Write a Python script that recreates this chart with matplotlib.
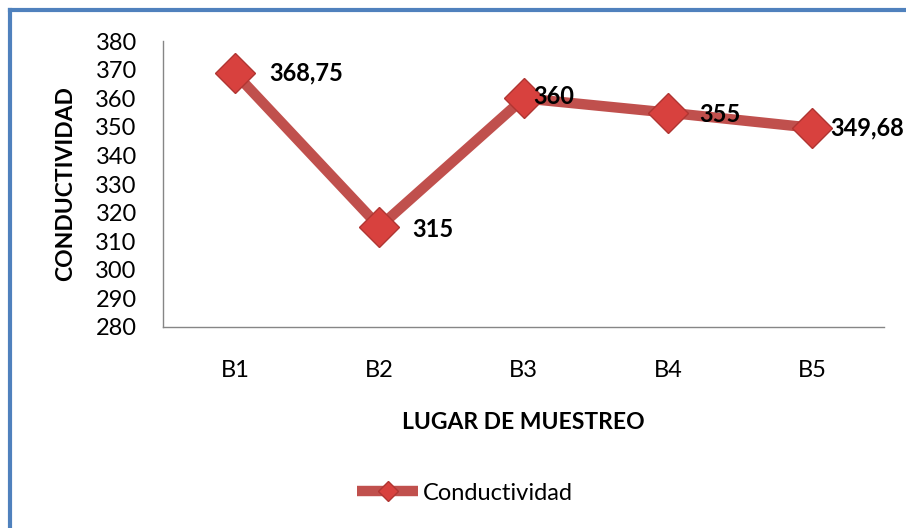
import matplotlib.pyplot as plt
from matplotlib.lines import Line2D

plt.rcParams['font.family'] = ['Lato', 'DejaVu Sans']

# data
lugares = ['B1', 'B2', 'B3', 'B4', 'B5']
conductividad = [368.75, 315, 360, 355, 349.68]
etiquetas = ['368,75', '315', '360', '355', '349,68']
# label offsets in pixels (x, y) from each point
offsets = [(34, 0), (33, -3), (10, 2), (31, -2), (18, 0)]

red = '#C0504D'

fig = plt.figure(figsize=(9.06, 5.28), dpi=100)
ax = fig.add_axes([0.180, 0.381, 0.796, 0.541])

x = range(len(lugares))
ax.plot(x, conductividad, color=red, linewidth=7.5, solid_capstyle='butt',
        marker='D', markersize=20, markerfacecolor='#D8413E',
        markeredgecolor='#B03532', markeredgewidth=1, label='Conductividad',
        zorder=3)

for i, (v, t) in enumerate(zip(conductividad, etiquetas)):
    ax.annotate(t, (i, v), xytext=offsets[i], textcoords='offset pixels',
                ha='left', va='center', fontsize=17, fontweight='bold',
                color='black', annotation_clip=False, zorder=4)

ax.set_xlim(-0.5, 4.5)
ax.set_ylim(280, 380)
ax.set_yticks(range(280, 381, 10))
ax.set_xticks(list(x))
ax.set_xticklabels(lugares)
ax.tick_params(axis='both', length=0, labelsize=17, colors='black')
ax.tick_params(axis='x', pad=24)
ax.tick_params(axis='y', pad=19)
for s in ['top', 'right']:
    ax.spines[s].set_visible(False)
for s in ['left', 'bottom']:
    ax.spines[s].set_color('#868686')
    ax.spines[s].set_linewidth(1)

ax.set_ylabel('CONDUCTIVIDAD', fontsize=16.5, fontweight='bold', labelpad=14)
ax.set_xlabel('LUGAR DE MUESTREO', fontsize=16.5, fontweight='bold', labelpad=22)

ax.legend(loc='center', bbox_to_anchor=(465 / 906, 1 - 493 / 528),
          bbox_transform=fig.transFigure, frameon=False, fontsize=17,
          handlelength=2.6, handletextpad=0.2, markerscale=0.5)

# blue chart border (left and top)
fig.add_artist(Line2D([10 / 906, 10 / 906], [0, 1 - 10 / 528],
                      transform=fig.transFigure, color='#4F81BD', linewidth=3))
fig.add_artist(Line2D([10 / 906, 1], [1 - 10 / 528, 1 - 10 / 528],
                      transform=fig.transFigure, color='#4F81BD', linewidth=3))

fig.savefig('out.png', dpi=100)
